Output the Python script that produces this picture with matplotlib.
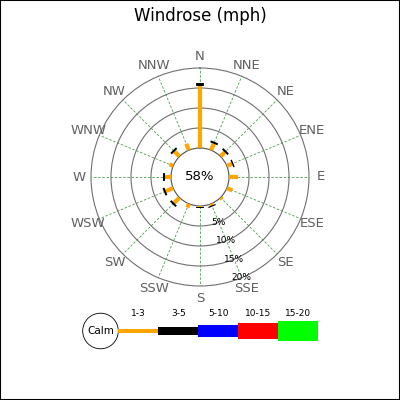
import numpy as np
import matplotlib
matplotlib.use('Agg')
import matplotlib.pyplot as plt
from matplotlib.patches import Circle

# data (percent of time)
directions = ['N','NNE','NE','ENE','E','ESE','SE','SSE','S','SSW','SW','WSW','W','WNW','NW','NNW']
r13 = [15.5, 1.75, 1.5, 1.4, 2.25, 1.5, 0.6, 0.45, 0.3, 1.0, 1.9, 2.0, 1.5, 1.0, 1.75, 1.75]
r35 = [0.75, 0.5, 0.5, 0.35, 0, 0, 0, 0.3, 0.3, 0, 0.5, 0.5, 0.4, 0, 0.5, 0]
calm = 58
ranges = ['1-3', '3-5', '5-10', '10-15', '15-20']
range_colors = ['#ffa500', 'black', 'blue', 'red', '#00ff00']
rings = [5, 10, 15, 20]

W, H = 400, 400
fig = plt.figure(figsize=(4, 4), dpi=100)
fig.patch.set_facecolor('white')

# plot geometry in pixels
cx, cy = 200, 177
R = 109.0
px_per_pct = 4.0
r0 = (R - rings[-1]*px_per_pct) / px_per_pct   # calm circle radius in % units

ax = fig.add_axes([(cx-R)/W, (H-cy-R)/H, 2*R/W, 2*R/H], projection='polar')
ax.set_theta_zero_location('N')
ax.set_theta_direction(-1)
ax.set_ylim(0, rings[-1])
ax.set_rorigin(-r0)

theta = np.deg2rad(np.arange(len(directions)) * 22.5)
ax.set_xticks(theta)
ax.set_xticklabels([])
ax.set_yticks(rings[:-1])
ax.set_yticklabels([])
ax.xaxis.grid(True, color='#4f9a4f', linestyle=(0, (3, 2)), linewidth=0.6)
ax.yaxis.grid(True, color='#707070', linestyle='-', linewidth=0.8)
ax.spines['polar'].set_color('#707070')
ax.spines['polar'].set_linewidth(0.8)
ax.spines['inner'].set_color('#505050')
ax.spines['inner'].set_linewidth(0.8)
ax.tick_params(length=0)

for th, a, b in zip(theta, r13, r35):
    ax.plot([th, th], [0, a], color=range_colors[0], lw=3.0, solid_capstyle='butt', zorder=3)
    if b > 0:
        ax.plot([th, th], [a, a + b], color=range_colors[1], lw=5.6, solid_capstyle='butt', zorder=3)

for th, name in zip(theta, directions):
    ax.text(th, 23.0, name, ha='center', va='center', fontsize=9.5, color='#606060', clip_on=False)

for rv in rings:
    ax.text(np.deg2rad(157.5), rv, '%d%%' % rv, ha='center', va='center', fontsize=6.5, color='black', clip_on=False, zorder=4)

ax.text(0.5, 0.5, '%d%%' % calm, transform=ax.transAxes, ha='center', va='center', fontsize=9.5)

# overlay in pixel coordinates for title, legend and frame
ov = fig.add_axes([0, 0, 1, 1], zorder=-1)
ov.set_xlim(0, W)
ov.set_ylim(H, 0)
ov.set_xticks([])
ov.set_yticks([])
ov.patch.set_alpha(0)
for s in ov.spines.values():
    s.set_linewidth(1.5)
    s.set_color('black')

ov.text(200, 16, 'Windrose (mph)', ha='center', va='center', fontsize=12)

lx, ly = 100.5, 331
ov.add_patch(Circle((lx, ly), 17.8, facecolor='white', edgecolor='black', lw=0.6))
ov.text(lx, ly, 'Calm', ha='center', va='center', fontsize=7.5)
thick = [4, 8, 11.5, 16, 20]
seg = 40
for i, (lab, col) in enumerate(zip(ranges, range_colors)):
    ov.barh(ly, seg, left=lx + 17.8 + i*seg, height=thick[i], color=col, edgecolor='none')
    ov.text(lx + 17.8 + (i + 0.5)*seg, 314, lab, ha='center', va='center', fontsize=6.5)

fig.savefig('out.png', dpi=100)
